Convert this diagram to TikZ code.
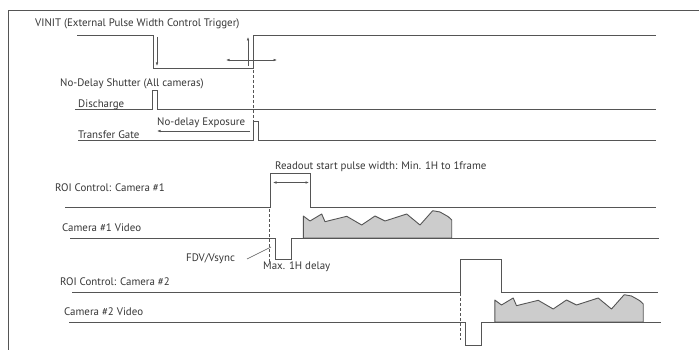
\documentclass[tikz,border=0pt]{standalone}
\usepackage{fontspec}
\setmainfont{PT Sans}
\usetikzlibrary{arrows.meta}
\definecolor{sigc}{RGB}{85,85,85}
\definecolor{txtc}{RGB}{55,55,55}
\definecolor{wavec}{RGB}{204,204,204}
\begin{document}
\begin{tikzpicture}[x=1pt,y=-1pt,
  sig/.style={draw=sigc, line width=1pt, line join=miter},
  frame/.style={draw=sigc, line width=1pt},
  lbl/.style={anchor=base west, inner sep=0pt, text=txtc, font=\fontsize{10.9}{12}\selectfont},
  arr/.style={draw=sigc, line width=0.6pt, -{Latex[length=3.5pt,width=2.6pt]}},
  dbl/.style={draw=sigc, line width=0.6pt, {Latex[length=3.5pt,width=2.6pt]}-{Latex[length=3.5pt,width=2.6pt]}},
  guide/.style={draw=sigc, line width=0.8pt, dash pattern=on 3pt off 2pt},
  lead/.style={draw=sigc, line width=0.6pt},
  wave/.style={fill=wavec, draw=sigc, line width=0.9pt, line join=round}
]
\useasboundingbox (0,0) rectangle (699,350);
\fill[white] (0,0) rectangle (699,350);
% frame
\draw[frame] (699,10.5) -- (8.5,10.5) -- (8.5,350);

% labels
\node[lbl] (tvinit) at (35,27) {VINIT (External Pulse Width Control Trigger)};
\node[lbl] (tshut) at (60,87) {No-Delay Shutter (All cameras)};
\node[lbl] (tdis) at (78,108) {Discharge};
\node[lbl] (texp) at (157,126) {No-delay Exposure};
\node[lbl] (ttg) at (78,139) {Transfer Gate};
\node[lbl] (tread) at (275,169) {Readout start pulse width: Min. 1H to 1frame};
\node[lbl] (troi1) at (55,191) {ROI Control: Camera \#1};
\node[lbl] (tvid1) at (62,231.5) {Camera \#1 Video};
\node[lbl] (tfdv) at (186,261.5) {FDV/Vsync};
\node[lbl] (tmax) at (263,269) {Max. 1H delay};
\node[lbl] (troi2) at (60,285) {ROI Control: Camera \#2};
\node[lbl] (tvid2) at (64,315.5) {Camera \#2 Video};

% VINIT
\draw[sig] (77,35.5) -- (153,35.5) -- (153,68.5) -- (253,68.5) -- (253,35.5) -- (655.5,35.5);
\coordinate (va1) at (157,37); \coordinate (va2) at (157,66);
\coordinate (vb1) at (248,66); \coordinate (vb2) at (248,37);
\coordinate (vh1) at (226,60); \coordinate (vh2) at (277,60);
\draw[arr] (va1) -- (va2);
\draw[arr] (vb1) -- (vb2);
\draw[dbl] (vh1) -- (vh2);
\coordinate (g1a) at (253,70); \coordinate (g1b) at (253,122);
\draw[guide] (g1a) -- (g1b);

% Discharge
\draw[sig] (75,110) -- (152,110) -- (152,91) -- (157,91) -- (157,110) -- (655.5,110);
% Transfer gate
\draw[sig] (78,141) -- (253,141) -- (253,122) -- (258,122) -- (258,141) -- (655.5,141);
\coordinate (ea) at (250,131); \coordinate (eb) at (157,131);
\draw[arr] (ea) -- (eb);

% Camera video waveforms
\begin{scope}
\draw[wave] (303.3,238) -- (303.3,216) -- (310,221) -- (321.7,214) -- (325,221.7) -- (346.7,216.3) -- (361.7,225) -- (375,216) -- (385,221) -- (406.7,214) -- (420,225) -- (432.7,210.7) -- (440,212) -- (448.3,216.7) -- (451.7,220) -- (451.7,238) -- cycle;
\end{scope}
\begin{scope}[shift={(191.5,84)}]
\draw[wave] (303.3,238) -- (303.3,216) -- (310,221) -- (321.7,214) -- (325,221.7) -- (346.7,216.3) -- (361.7,225) -- (375,216) -- (385,221) -- (406.7,214) -- (420,225) -- (432.7,210.7) -- (440,212) -- (448.3,216.7) -- (451.7,220) -- (451.7,238) -- cycle;
\end{scope}

% ROI 1
\draw[sig] (65,207.5) -- (270,207.5) -- (270,174) -- (310,174) -- (310,207.5) -- (656,207.5);
\coordinate (ra) at (273,182.5); \coordinate (rb) at (309,182.5);
\draw[dbl] (ra) -- (rb);
% Video 1
\draw[sig] (70,238) -- (275,238) -- (275,259.5) -- (291,259.5) -- (291,238) -- (659,238);
\coordinate (g2a) at (269,209); \coordinate (g2b) at (269,263);
\draw[guide] (g2a) -- (g2b);
\coordinate (fa) at (247,259); \coordinate (fb) at (271,247);
\draw[lead] (fa) -- (fb);

% ROI 2
\draw[sig] (72,292) -- (460.5,292) -- (460.5,259.5) -- (501.5,259.5) -- (501.5,292) -- (658,292);
% Video 2
\draw[sig] (69,322) -- (465,322) -- (465,345) -- (481.5,345) -- (481.5,322) -- (660.5,322);
\coordinate (g3a) at (460,293); \coordinate (g3b) at (460,340);
\draw[guide] (g3a) -- (g3b);
\end{tikzpicture}
\end{document}
